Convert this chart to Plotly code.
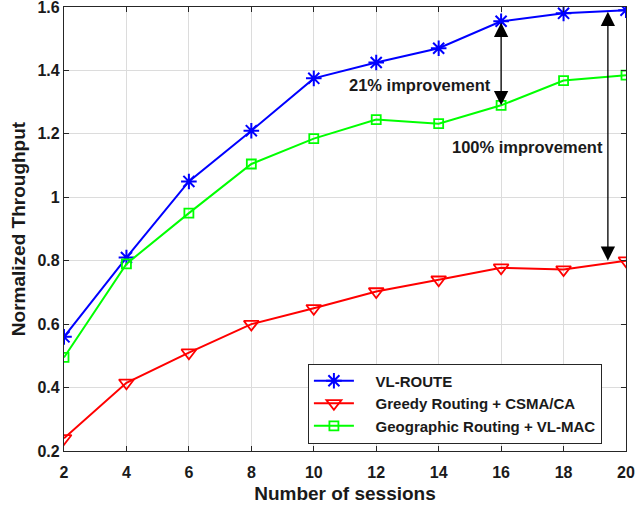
import plotly.graph_objects as go

sessions = [2, 4, 6, 8, 10, 12, 14, 16, 18, 20]
vl_route = [0.56, 0.81, 1.05, 1.21, 1.375, 1.425, 1.47, 1.555, 1.58, 1.59]
greedy_csma = [0.24, 0.415, 0.51, 0.60, 0.65, 0.703, 0.74, 0.778, 0.772, 0.80]
geo_vlmac = [0.495, 0.79, 0.95, 1.105, 1.185, 1.245, 1.232, 1.29, 1.368, 1.385]

x_ticks = [2, 4, 6, 8, 10, 12, 14, 16, 18, 20]
y_ticks = [0.2, 0.4, 0.6, 0.8, 1.0, 1.2, 1.4, 1.6]
y_tick_labels = ["0.2", "0.4", "0.6", "0.8", "1", "1.2", "1.4", "1.6"]

FONT = "Liberation Sans, Arial, sans-serif"
PAD = "\u00a0" * 4

fig = go.Figure()
fig.add_trace(go.Scatter(
    x=sessions, y=vl_route, name="VL-ROUTE", mode="lines+markers",
    line=dict(color="#0000ff", width=2),
    marker=dict(symbol="asterisk-open", size=13, color="#0000ff", line=dict(width=2, color="#0000ff")),
))
fig.add_trace(go.Scatter(
    x=sessions, y=greedy_csma, name="Greedy Routing + CSMA/CA", mode="lines+markers",
    line=dict(color="#ff0000", width=2),
    marker=dict(symbol="triangle-down-open", size=13, color="#ff0000", line=dict(width=1.8, color="#ff0000")),
))
fig.add_trace(go.Scatter(
    x=sessions, y=geo_vlmac, name="Geographic Routing + VL-MAC", mode="lines+markers",
    line=dict(color="#00ff00", width=2),
    marker=dict(symbol="square-open", size=9, color="#00ff00", line=dict(width=1.8, color="#00ff00")),
))

# improvement arrows
arrow1_x = 16
arrow2_x = 19.42
for ax_x, top, bottom in [(arrow1_x, vl_route[7], geo_vlmac[7]), (arrow2_x, vl_route[9], greedy_csma[9])]:
    fig.add_annotation(
        x=ax_x, y=bottom, ax=ax_x, ay=top, xref="x", yref="y", axref="x", ayref="y",
        showarrow=True, arrowhead=2, startarrowhead=2, arrowside="end+start",
        arrowsize=2.2, startarrowsize=2.2, arrowwidth=1.3, arrowcolor="black", text="",
    )

fig.add_annotation(x=13.4, y=1.354, xref="x", yref="y", text="<b>21% improvement</b>",
                   showarrow=False, font=dict(family=FONT, size=16.5, color="#1a1a1a"))
fig.add_annotation(x=16.84, y=1.158, xref="x", yref="y", text="<b>100% improvement</b>",
                   showarrow=False, font=dict(family=FONT, size=16.5, color="#1a1a1a"))

axis_common = dict(
    showline=True, linecolor="#262626", linewidth=1.2, mirror="ticks",
    ticks="inside", ticklen=5, tickcolor="#262626",
    showgrid=True, gridcolor="#dcdcdc", gridwidth=1, zeroline=False,
    tickfont=dict(family=FONT, size=16, color="#1a1a1a"),
    ticklabeloverflow="allow", automargin=False,
)

fig.update_layout(
    width=636, height=508,
    margin=dict(l=64, r=10, t=7, b=57),
    paper_bgcolor="white", plot_bgcolor="white",
    font=dict(family=FONT, size=16, color="#1a1a1a"),
    xaxis=dict(range=[2, 20], tickvals=x_ticks, ticktext=[f"<b>{t}</b>" for t in x_ticks],
               ticklabelstandoff=7,
               title=dict(text="<b>Number of sessions</b>", font=dict(family=FONT, size=19), standoff=6),
               **axis_common),
    yaxis=dict(range=[0.2, 1.6], tickvals=y_ticks, ticktext=[f"<b>{t}</b>" for t in y_tick_labels],
               title=dict(text="<b>Normalized Throughput</b>", font=dict(family=FONT, size=19), standoff=6),
               **axis_common),
    legend=dict(x=0.434, y=0.197, xanchor="left", yanchor="top",
                bgcolor="white", bordercolor="#262626", borderwidth=1,
                font=dict(family=FONT, size=15, color="#1a1a1a"),
                tracegroupgap=0, itemwidth=40),
    showlegend=True,
)
fig.for_each_trace(lambda t: t.update(name=f"{PAD}<b>{t.name}</b>"))

fig.write_html("out.html")
